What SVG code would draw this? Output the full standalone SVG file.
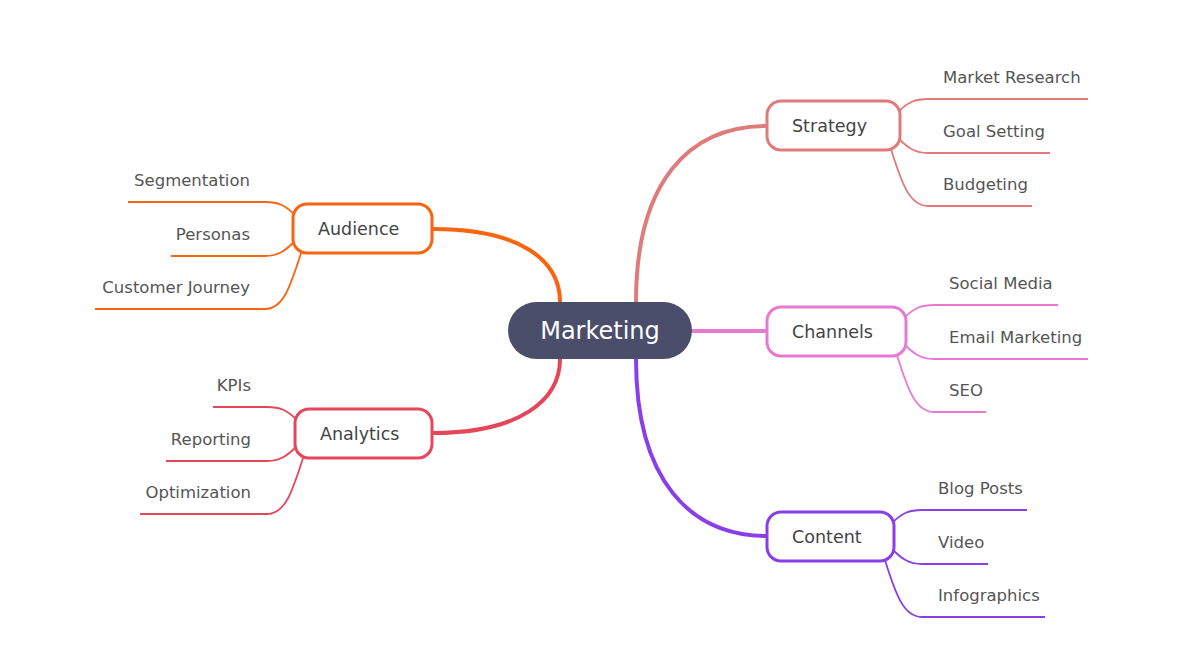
<svg xmlns="http://www.w3.org/2000/svg" width="1185" height="662" viewBox="0 0 1185 662">
<style>
text{font-family:"DejaVu Sans",sans-serif}
.n{fill:#fff;stroke-width:3}
.nt{font-size:17.5px;fill:#444}
.lt{font-size:16.5px;fill:#555}
.l{fill:none;stroke-width:1.8}
.m{fill:none;stroke-width:4}
</style>
<rect width="1185" height="662" fill="#fff"/>
<g id="connectors">
<path class="m" stroke="#e07b7b" d="M636,302 C636,180 690,126 767,126"/>
<path class="m" stroke="#e879d0" d="M692,331 L767,331"/>
<path class="m" stroke="#8a3ee8" d="M636,359 C636,480 690,536 767,536"/>
<path class="m" stroke="#f86511" d="M560,302 C560,260 520,229 433,229"/>
<path class="m" stroke="#e5475a" d="M560,359 C560,400 520,433 433,433"/>
<g stroke="#e07b7b">
<path class="l" d="M898,112 C908,102 915,99 928,99 H1088"/>
<path class="l" d="M898,138 C908,148 915,153 928,153 H1050"/>
<path class="l" d="M890,146 C902,185 910,206 928,206 H1032"/>
</g>
<g stroke="#e879d0">
<path class="l" d="M904,318 C914,308 921,305 934,305 H1058"/>
<path class="l" d="M904,344 C914,354 921,359 934,359 H1088"/>
<path class="l" d="M896,352 C908,391 916,412 934,412 H986"/>
</g>
<g stroke="#8a3ee8">
<path class="l" d="M892,523 C902,513 909,510 922,510 H1027"/>
<path class="l" d="M892,549 C902,559 909,564 922,564 H988"/>
<path class="l" d="M884,557 C896,596 904,617 922,617 H1045"/>
</g>
<g stroke="#f86511">
<path class="l" d="M295,215 C285,205 278,202 265,202 H128"/>
<path class="l" d="M295,241 C285,251 278,256 265,256 H171"/>
<path class="l" d="M302,250 C290,288 283,309 265,309 H95"/>
</g>
<g stroke="#e5475a">
<path class="l" d="M297,420 C287,410 280,407 267,407 H213"/>
<path class="l" d="M297,446 C287,456 280,461 267,461 H166"/>
<path class="l" d="M304,455 C292,493 285,514 267,514 H140"/>
</g>
</g>
<g id="marketing"><rect x="508" y="302" width="184" height="57" rx="28.5" fill="#4a4e6b"/><text x="600" y="339" font-size="24" fill="#fff" text-anchor="middle">Marketing</text></g>
<g id="strategy"><rect class="n" x="767" y="101" width="133" height="49" rx="14" stroke="#e07b7b"/><text class="nt" x="792" y="132">Strategy</text></g>
<g id="channels"><rect class="n" x="767" y="307" width="139" height="49" rx="14" stroke="#e879d0"/><text class="nt" x="792" y="338">Channels</text></g>
<g id="content"><rect class="n" x="767" y="512" width="127" height="49" rx="14" stroke="#8a3ee8"/><text class="nt" x="792" y="543">Content</text></g>
<g id="audience"><rect class="n" x="293" y="204" width="139" height="49" rx="14" stroke="#f86511"/><text class="nt" x="318" y="235">Audience</text></g>
<g id="analytics"><rect class="n" x="295" y="409" width="137" height="49" rx="14" stroke="#e5475a"/><text class="nt" x="320" y="440">Analytics</text></g>
<g id="leaves" class="lt">
<text class="lt" x="943" y="83">Market Research</text>
<text class="lt" x="943" y="137">Goal Setting</text>
<text class="lt" x="943" y="190">Budgeting</text>
<text class="lt" x="949" y="289">Social Media</text>
<text class="lt" x="949" y="343">Email Marketing</text>
<text class="lt" x="949" y="396">SEO</text>
<text class="lt" x="938" y="494">Blog Posts</text>
<text class="lt" x="938" y="548">Video</text>
<text class="lt" x="938" y="601">Infographics</text>
<text class="lt" x="250" y="186" text-anchor="end">Segmentation</text>
<text class="lt" x="250" y="240" text-anchor="end">Personas</text>
<text class="lt" x="250" y="293" text-anchor="end">Customer Journey</text>
<text class="lt" x="251" y="391" text-anchor="end">KPIs</text>
<text class="lt" x="251" y="445" text-anchor="end">Reporting</text>
<text class="lt" x="251" y="498" text-anchor="end">Optimization</text>
</g>
</svg>
